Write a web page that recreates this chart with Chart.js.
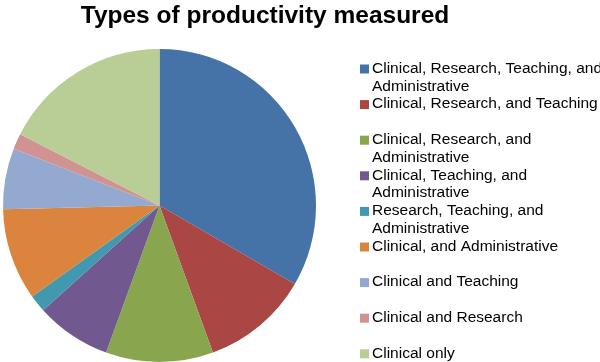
<!DOCTYPE html>
<html>
<head>
<meta charset="utf-8">
<script src="https://cdn.jsdelivr.net/npm/chart.js@4/dist/chart.umd.min.js"></script>
<style>
html,body{margin:0;padding:0;background:#fff;}
#wrap{width:600px;height:362px;position:relative;}
</style>
</head>
<body>
<div id="wrap"><canvas id="c" width="600" height="362"></canvas></div>
<script>
const titleText = "Types of productivity measured";
const categories = [
  ["Clinical, Research, Teaching, and", "Administrative"],
  ["Clinical, Research, and Teaching"],
  ["Clinical, Research, and", "Administrative"],
  ["Clinical, Teaching, and", "Administrative"],
  ["Research, Teaching, and", "Administrative"],
  ["Clinical, and Administrative"],
  ["Clinical and Teaching"],
  ["Clinical and Research"],
  ["Clinical only"]
];
const shares = [33.4, 11.1, 11.1, 7.8, 1.8, 9.5, 6.3, 1.6, 17.5];
const colors = ["#4572A7", "#AA4643", "#89A54E", "#71588F", "#4198AF", "#DB843D", "#93A9CF", "#D19392", "#B9CD96"];

const FONT = '"Liberation Sans", Arial, Helvetica, sans-serif';

const customText = {
  id: 'customText',
  afterDraw(chart) {
    const ctx = chart.ctx;
    ctx.save();
    // title
    ctx.fillStyle = '#000';
    ctx.font = 'bold 24.5px ' + FONT;
    ctx.textAlign = 'center';
    ctx.textBaseline = 'alphabetic';
    ctx.fillText(titleText, 265, 23);
    // legend
    const labels = chart.data.labels;
    const bg = chart.data.datasets[0].backgroundColor;
    ctx.font = '15.5px ' + FONT;
    ctx.textAlign = 'left';
    ctx.textBaseline = 'middle';
    const startY = 68.5, step = 35.6, lineH = 17.8;
    labels.forEach((lab, i) => {
      const y = startY + i * step;
      ctx.fillStyle = bg[i];
      ctx.fillRect(360, y - 4, 9, 9);
      ctx.fillStyle = '#000';
      const lines = Array.isArray(lab) ? lab : [lab];
      lines.forEach((ln, j) => ctx.fillText(ln, 372, y + j * lineH));
    });
    ctx.restore();
  }
};

new Chart(document.getElementById('c'), {
  type: 'pie',
  data: {
    labels: categories,
    datasets: [{
      data: shares,
      backgroundColor: colors,
      borderWidth: 0
    }]
  },
  options: {
    responsive: false,
    animation: false,
    layout: { padding: { top: 49, left: 2, right: 283, bottom: -2 } },
    plugins: {
      legend: { display: false },
      title: { display: false },
      tooltip: { enabled: false }
    }
  },
  plugins: [customText]
});
</script>
</body>
</html>
